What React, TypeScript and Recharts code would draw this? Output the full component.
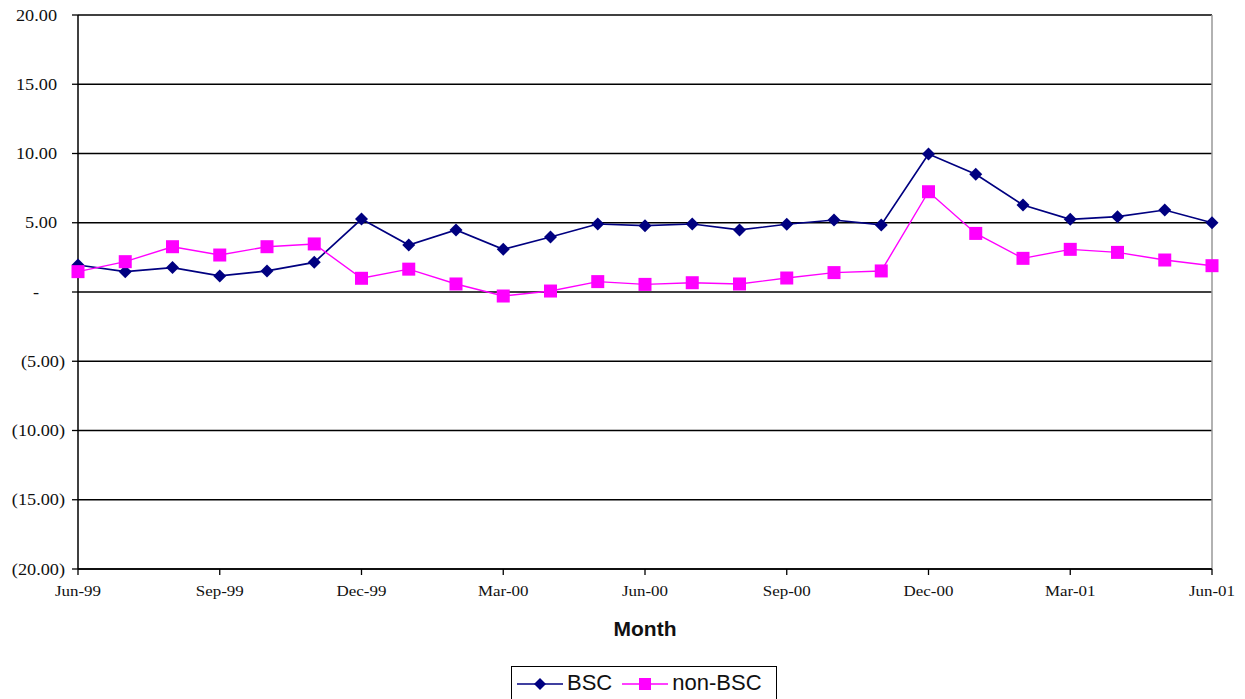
import React from 'react';
import { LineChart, Line, XAxis, YAxis, CartesianGrid, ReferenceLine } from 'recharts';

const months = [
  'Jun-99', 'Jul-99', 'Aug-99', 'Sep-99', 'Oct-99', 'Nov-99', 'Dec-99',
  'Jan-00', 'Feb-00', 'Mar-00', 'Apr-00', 'May-00', 'Jun-00', 'Jul-00',
  'Aug-00', 'Sep-00', 'Oct-00', 'Nov-00', 'Dec-00', 'Jan-01', 'Feb-01',
  'Mar-01', 'Apr-01', 'May-01', 'Jun-01',
];

const bsc = [
  1.95, 1.47, 1.76, 1.16, 1.52, 2.14, 5.27, 3.39, 4.48, 3.08, 3.97, 4.91, 4.79,
  4.91, 4.48, 4.89, 5.2, 4.84, 9.96, 8.5, 6.28, 5.25, 5.44, 5.92, 5.0,
];

const nonBsc = [
  1.47, 2.19, 3.27, 2.67, 3.27, 3.47, 0.99, 1.65, 0.58, -0.29, 0.07, 0.75, 0.55,
  0.67, 0.58, 1.01, 1.4, 1.52, 7.24, 4.23, 2.43, 3.08, 2.86, 2.31, 1.9,
];

const yTicks = [-20, -15, -10, -5, 0, 5, 10, 15, 20];

const NAVY = '#000080';
const MAGENTA = '#FF00FF';

const data = months.map((m, i) => ({ month: m, bsc: bsc[i], nonBsc: nonBsc[i] }));

// Excel accounting style: zero as a dash, negatives in brackets
function fmtAcct(v: number) {
  if (v === 0) return { label: '-', dx: -18 };
  if (v < 0) return { label: `(${Math.abs(v).toFixed(2)})`, dx: 8 };
  return { label: v.toFixed(2), dx: 0 };
}

const YTick = (props: any) => {
  const { x, y, payload } = props;
  const { label, dx } = fmtAcct(payload.value);
  return (
    <g transform={`translate(${x + dx},${y})`}>
      <text
        textAnchor="end"
        dy="0.35em"
        transform="scale(1.14,1)"
        fontFamily="'Liberation Serif', 'Times New Roman', serif"
        fontSize={16}
        fill="#111"
      >
        {label}
      </text>
    </g>
  );
};

const XTick = (props: any) => {
  const { x, y, payload } = props;
  return (
    <g transform={`translate(${x},${y})`}>
      <text
        textAnchor="middle"
        dy="0.71em"
        transform="scale(1.13,1)"
        fontFamily="'Liberation Serif', 'Times New Roman', serif"
        fontSize={15}
        fill="#111"
      >
        {payload.value}
      </text>
    </g>
  );
};

const Diamond = (props: any) => {
  const { cx, cy } = props;
  if (cx == null || cy == null) return null;
  return <polygon points={`${cx},${cy - 6.5} ${cx + 6.5},${cy} ${cx},${cy + 6.5} ${cx - 6.5},${cy}`} fill={NAVY} />;
};

const Square = (props: any) => {
  const { cx, cy } = props;
  if (cx == null || cy == null) return null;
  return <rect x={cx - 6.5} y={cy - 6.5} width={13} height={13} fill={MAGENTA} />;
};

function LegendBox() {
  const font = "'Liberation Sans', Arial, sans-serif";
  return (
    <div
      style={{
        position: 'absolute',
        left: 511,
        top: 666,
        width: 266,
        height: 44,
        border: '1px solid #000',
        background: '#fff',
        display: 'flex',
        alignItems: 'flex-start',
        paddingTop: 4,
        boxSizing: 'border-box',
        fontFamily: font,
        fontSize: 22,
        color: '#111',
      }}
    >
      <svg width={50} height={24} style={{ marginLeft: 5 }}>
        <line x1={0} y1={13} x2={46} y2={13} stroke={NAVY} strokeWidth={1.6} />
        <polygon points="23,7 29,13 23,19 17,13" fill={NAVY} />
      </svg>
      <span style={{ lineHeight: '24px', marginLeft: 0 }}>BSC</span>
      <svg width={50} height={24} style={{ marginLeft: 10 }}>
        <line x1={0} y1={13} x2={46} y2={13} stroke={MAGENTA} strokeWidth={1.6} />
        <rect x={17} y={7} width={12} height={12} fill={MAGENTA} />
      </svg>
      <span style={{ lineHeight: '24px', marginLeft: 0 }}>non-BSC</span>
    </div>
  );
}

export default function App() {
  return (
    <div
      style={{
        position: 'absolute',
        left: 0,
        top: 0,
        width: 1245,
        height: 699,
        overflow: 'hidden',
        background: '#fff',
      }}
    >
      <LineChart width={1245} height={699} data={data} margin={{ top: 15, right: 33, left: 0, bottom: 0 }}>
        <CartesianGrid vertical={false} stroke="#000" strokeWidth={1.3} />
        <XAxis
          dataKey="month"
          interval={2}
          height={130}
          axisLine={{ stroke: '#000', strokeWidth: 1.5 }}
          tickLine={{ stroke: '#000', strokeWidth: 1.3 }}
          tickSize={6}
          tickMargin={10}
          tick={<XTick />}
          label={{
            value: 'Month',
            position: 'insideTop',
            offset: 52,
            fontFamily: "'Liberation Sans', Arial, sans-serif",
            fontSize: 21,
            fontWeight: 'bold',
            fill: '#111',
          }}
        />
        <YAxis
          domain={[-20, 20]}
          ticks={yTicks}
          width={78}
          interval={0}
          axisLine={{ stroke: '#000', strokeWidth: 1.5 }}
          tickLine={{ stroke: '#000', strokeWidth: 1.3 }}
          tickSize={6}
          tickMargin={15}
          tick={<YTick />}
        />
        <ReferenceLine x="Jun-01" stroke="#999" strokeWidth={1.5} />
        <Line
          dataKey="bsc"
          stroke={NAVY}
          strokeWidth={1.7}
          dot={<Diamond />}
          activeDot={false}
          isAnimationActive={false}
        />
        <Line
          dataKey="nonBsc"
          stroke={MAGENTA}
          strokeWidth={1.4}
          dot={<Square />}
          activeDot={false}
          isAnimationActive={false}
        />
      </LineChart>
      <LegendBox />
    </div>
  );
}
